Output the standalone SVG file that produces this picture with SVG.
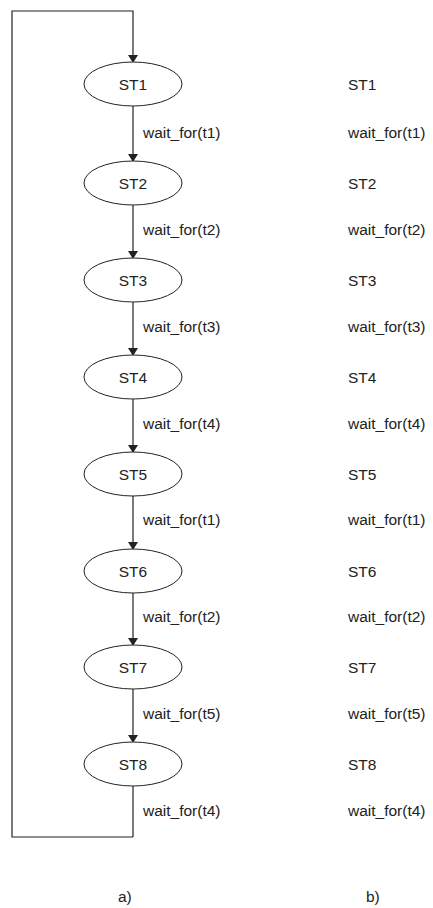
<svg xmlns="http://www.w3.org/2000/svg" width="433" height="908" viewBox="0 0 433 908">
<style>
text{font-family:"Liberation Sans",Arial,sans-serif;font-size:15.5px;fill:#222}
.st{text-anchor:middle}
ellipse{fill:#fff;stroke:#222;stroke-width:1}
.c path{fill:none;stroke:#222;stroke-width:1.2}
</style>
<defs>
<marker id="ah" markerWidth="8" markerHeight="10" refX="7" refY="5" orient="auto" markerUnits="userSpaceOnUse" viewBox="0 0 8 10">
<path d="M0,0 L8,5 L0,10 Z" fill="#222"/>
</marker>
</defs>
<rect width="433" height="908" fill="#fff"/>
<g class="c" id="connectors">
<path d="M133,837 L12,837 L12,11 L133,11 L133,62" marker-end="url(#ah)"/>
<path d="M133,106 L133,161" marker-end="url(#ah)"/>
<path d="M133,205 L133,258" marker-end="url(#ah)"/>
<path d="M133,302 L133,355" marker-end="url(#ah)"/>
<path d="M133,399 L133,452" marker-end="url(#ah)"/>
<path d="M133,496 L133,549" marker-end="url(#ah)"/>
<path d="M133,593 L133,645" marker-end="url(#ah)"/>
<path d="M133,689 L133,742" marker-end="url(#ah)"/>
<path d="M133,786 L133,837"/>
</g>
<g id="n1"><ellipse cx="133" cy="84" rx="49" ry="22"/><text class="st" x="133" y="90">ST1</text></g>
<g id="n2"><ellipse cx="133" cy="183" rx="49" ry="22"/><text class="st" x="133" y="189">ST2</text></g>
<g id="n3"><ellipse cx="133" cy="280" rx="49" ry="22"/><text class="st" x="133" y="286">ST3</text></g>
<g id="n4"><ellipse cx="133" cy="377" rx="49" ry="22"/><text class="st" x="133" y="383">ST4</text></g>
<g id="n5"><ellipse cx="133" cy="474" rx="49" ry="22"/><text class="st" x="133" y="480">ST5</text></g>
<g id="n6"><ellipse cx="133" cy="571" rx="49" ry="22"/><text class="st" x="133" y="577">ST6</text></g>
<g id="n7"><ellipse cx="133" cy="667" rx="49" ry="22"/><text class="st" x="133" y="673">ST7</text></g>
<g id="n8"><ellipse cx="133" cy="764" rx="49" ry="22"/><text class="st" x="133" y="770">ST8</text></g>
<g id="labels-a">
<text x="143" y="138">wait_for(t1)</text>
<text x="143" y="235">wait_for(t2)</text>
<text x="143" y="332">wait_for(t3)</text>
<text x="143" y="429">wait_for(t4)</text>
<text x="143" y="525">wait_for(t1)</text>
<text x="143" y="622">wait_for(t2)</text>
<text x="143" y="719">wait_for(t5)</text>
<text x="143" y="816">wait_for(t4)</text>
</g>
<g id="list-b">
<text x="348" y="90">ST1</text>
<text x="348" y="138">wait_for(t1)</text>
<text x="348" y="189">ST2</text>
<text x="348" y="235">wait_for(t2)</text>
<text x="348" y="286">ST3</text>
<text x="348" y="332">wait_for(t3)</text>
<text x="348" y="383">ST4</text>
<text x="348" y="429">wait_for(t4)</text>
<text x="348" y="480">ST5</text>
<text x="348" y="525">wait_for(t1)</text>
<text x="348" y="577">ST6</text>
<text x="348" y="622">wait_for(t2)</text>
<text x="348" y="673">ST7</text>
<text x="348" y="719">wait_for(t5)</text>
<text x="348" y="770">ST8</text>
<text x="348" y="816">wait_for(t4)</text>
</g>
<text x="118" y="902">a)</text>
<text x="366" y="902">b)</text>
</svg>
